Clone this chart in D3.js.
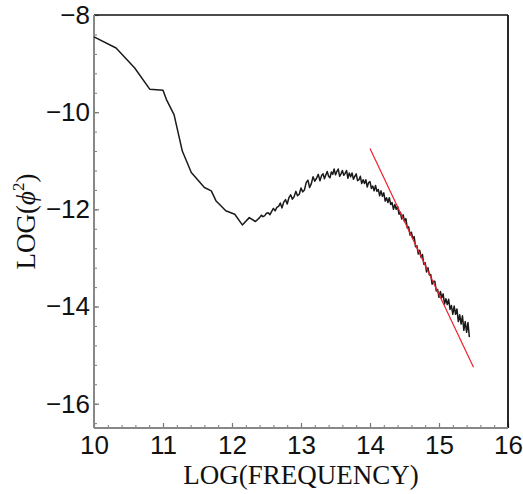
<!DOCTYPE html>
<html>
<head>
<meta charset="utf-8">
<script src="https://cdn.jsdelivr.net/npm/d3@7/dist/d3.min.js"></script>
<style>
  body { margin: 0; background: #fff; }
  .tick text { font-family: "Liberation Sans", Arial, sans-serif; font-size: 26px; fill: #111; }
</style>
</head>
<body>
<div id="chart"></div>
<script>
// spectrum: log frequency vs log(phi^2)
var logFreq = [
  10.00, 10.32, 10.59, 10.81, 11.00, 11.05, 11.16, 11.28, 11.41, 11.60, 11.70, 11.77, 11.91, 12.04, 12.15, 12.25, 12.34,
  12.400, 12.425, 12.450, 12.475, 12.500, 12.525, 12.550, 12.575, 12.600, 12.625, 12.650, 12.675, 12.700, 12.725,
  12.750, 12.775, 12.800, 12.825, 12.850, 12.875, 12.900, 12.925, 12.950, 12.975, 13.000, 13.025, 13.050, 13.075,
  13.100, 13.125, 13.150, 13.175, 13.200, 13.225, 13.250, 13.275, 13.300,
  13.32, 13.34, 13.36, 13.38, 13.40, 13.42, 13.44, 13.46, 13.48, 13.50, 13.52, 13.54, 13.56, 13.58, 13.60, 13.62,
  13.64, 13.66, 13.68, 13.70, 13.72, 13.74, 13.76, 13.78, 13.80, 13.82, 13.84, 13.86, 13.88, 13.90, 13.92, 13.94,
  13.96, 13.98, 14.00, 14.02, 14.04, 14.06, 14.08, 14.10, 14.12, 14.14, 14.16, 14.18, 14.20, 14.22, 14.24, 14.26,
  14.28, 14.30, 14.32, 14.34, 14.36, 14.38, 14.40, 14.42, 14.44, 14.46, 14.48, 14.50, 14.52, 14.54, 14.56, 14.58,
  14.60, 14.62, 14.64, 14.66, 14.68, 14.70, 14.72, 14.74, 14.76, 14.78, 14.80, 14.82, 14.84, 14.86, 14.88, 14.90,
  14.92, 14.94, 14.96, 14.98, 15.00, 15.02, 15.04, 15.06, 15.08, 15.10, 15.12, 15.14, 15.16, 15.18, 15.20, 15.22,
  15.24, 15.26, 15.28, 15.30, 15.32, 15.34, 15.36, 15.38, 15.40, 15.42, 15.44
];
var logPhi2 = [
  -8.45, -8.68, -9.09, -9.53, -9.55, -9.74, -10.05, -10.80, -11.24, -11.55, -11.62, -11.83, -12.03, -12.10, -12.32, -12.17, -12.25,
  -12.17, -12.12, -12.15, -12.13, -12.08, -12.07, -12.11, -12.04, -11.98, -12.03, -11.96, -11.94, -11.87, -11.97,
  -11.85, -11.80, -11.89, -11.76, -11.70, -11.79, -11.74, -11.63, -11.72, -11.69, -11.56, -11.64, -11.60, -11.45,
  -11.40, -11.55, -11.47, -11.33, -11.42, -11.36, -11.28, -11.41, -11.30,
  -11.27, -11.37, -11.29, -11.22, -11.32, -11.35, -11.23, -11.28, -11.17, -11.29, -11.22, -11.17, -11.32, -11.27, -11.20, -11.30,
  -11.26, -11.20, -11.36, -11.25, -11.33, -11.25, -11.38, -11.32, -11.27, -11.41, -11.39, -11.32, -11.47, -11.39, -11.47, -11.39,
  -11.54, -11.45, -11.43, -11.57, -11.52, -11.62, -11.51, -11.63, -11.59, -11.72, -11.62, -11.73, -11.66, -11.83, -11.76, -11.86,
  -11.76, -11.90, -11.86, -12.00, -11.90, -12.00, -11.94, -12.10, -12.06, -12.20, -12.11, -12.25, -12.19, -12.38, -12.36, -12.53,
  -12.47, -12.60, -12.56, -12.77, -12.75, -12.92, -12.84, -12.99, -12.93, -13.13, -13.10, -13.29, -13.20, -13.35, -13.34, -13.54,
  -13.48, -13.48, -13.68, -13.65, -13.81, -13.69, -13.82, -13.74, -13.95, -13.84, -13.96, -13.85, -14.06, -13.98, -14.16, -13.99,
  -14.16, -14.05, -14.31, -14.17, -14.36, -14.19, -14.49, -14.31, -14.53, -14.33, -14.63
];
// fitted power-law line (red)
var fitFreq = [14.0, 15.5];
var fitPhi2 = [-10.75, -15.25];

var xMajor = [10, 11, 12, 13, 14, 15, 16];
var yMajor = [-16, -14, -12, -10, -8];

var width = 523, height = 494;
var margin = { top: 15, right: 15, bottom: 66, left: 94 };
var plotW = 508 - margin.left, plotH = 428 - margin.top;

var xScale = d3.scaleLinear().domain([10, 16]).range([0, plotW]);
var yScale = d3.scaleLinear().domain([-16.5, -8]).range([plotH, 0]);

var svg = d3.select('#chart').append('svg')
    .attr('width', width)
    .attr('height', height);

var g = svg.append('g')
    .attr('transform', 'translate(' + margin.left + ',' + margin.top + ')');

// minor ticks
var xMinor = d3.range(10, 16.001, 0.2);
var yMinor = d3.range(-16.4, -7.99, 0.4);

g.append('g')
    .attr('transform', 'translate(0,' + plotH + ')')
    .call(d3.axisBottom(xScale).tickValues(xMinor).tickSize(-3).tickFormat(''))
    .call(function (a) { a.select('.domain').remove(); a.selectAll('line').attr('stroke', '#777'); });

g.append('g')
    .call(d3.axisLeft(yScale).tickValues(yMinor).tickSize(-3).tickFormat(''))
    .call(function (a) { a.select('.domain').remove(); a.selectAll('line').attr('stroke', '#777'); });

// major ticks + labels
var fmt = function (d) { return d < 0 ? '\u2212' + Math.abs(d) : '' + d; };

g.append('g')
    .attr('transform', 'translate(0,' + plotH + ')')
    .call(d3.axisBottom(xScale).tickValues(xMajor).tickSize(-5).tickPadding(8).tickFormat(fmt))
    .call(function (a) { a.select('.domain').remove(); a.selectAll('line').attr('stroke', '#777').attr('stroke-width', 1.2); });

g.append('g')
    .call(d3.axisLeft(yScale).tickValues(yMajor).tickSize(-5).tickPadding(4).tickFormat(fmt))
    .call(function (a) { a.select('.domain').remove(); a.selectAll('line').attr('stroke', '#777').attr('stroke-width', 1.2); });

// frame: top/right black, left/bottom grey
g.append('line').attr('x1', 0).attr('x2', plotW).attr('y1', 0).attr('y2', 0)
    .attr('stroke', '#111').attr('stroke-width', 1.3);
g.append('line').attr('x1', plotW).attr('x2', plotW).attr('y1', 0).attr('y2', plotH)
    .attr('stroke', '#111').attr('stroke-width', 1.8);
g.append('line').attr('x1', 0).attr('x2', 0).attr('y1', 0).attr('y2', plotH)
    .attr('stroke', '#888').attr('stroke-width', 2);
g.append('line').attr('x1', 0).attr('x2', plotW).attr('y1', plotH).attr('y2', plotH)
    .attr('stroke', '#888').attr('stroke-width', 2);

// spectrum
var line = d3.line()
    .x(function (d) { return xScale(d[0]); })
    .y(function (d) { return yScale(d[1]); });

g.append('path')
    .datum(d3.zip(logFreq, logPhi2))
    .attr('fill', 'none')
    .attr('stroke', '#1a1a1a')
    .attr('stroke-width', 1.5)
    .attr('stroke-linejoin', 'round')
    .attr('d', line);

// fit
g.append('path')
    .datum(d3.zip(fitFreq, fitPhi2))
    .attr('fill', 'none')
    .attr('stroke', '#f0202a')
    .attr('stroke-width', 1.2)
    .attr('d', line);

// axis titles
svg.append('text')
    .attr('x', margin.left + plotW / 2)
    .attr('y', 484)
    .attr('text-anchor', 'middle')
    .style('font-family', '"Liberation Serif", "Times New Roman", serif')
    .style('font-size', '27px')
    .attr('fill', '#111')
    .text('LOG(FREQUENCY)');

var yt = svg.append('text')
    .attr('transform', 'translate(35,' + (margin.top + plotH / 2) + ') rotate(-90)')
    .attr('text-anchor', 'middle')
    .style('font-family', '"Liberation Serif", "Times New Roman", serif')
    .style('font-size', '27px')
    .attr('fill', '#111');
yt.append('tspan').text('LOG(');
yt.append('tspan').style('font-style', 'italic').text('\u03d5');
yt.append('tspan').attr('dy', -11).style('font-size', '17px').text('2');
yt.append('tspan').attr('dy', 11).text(')');
</script>
</body>
</html>
